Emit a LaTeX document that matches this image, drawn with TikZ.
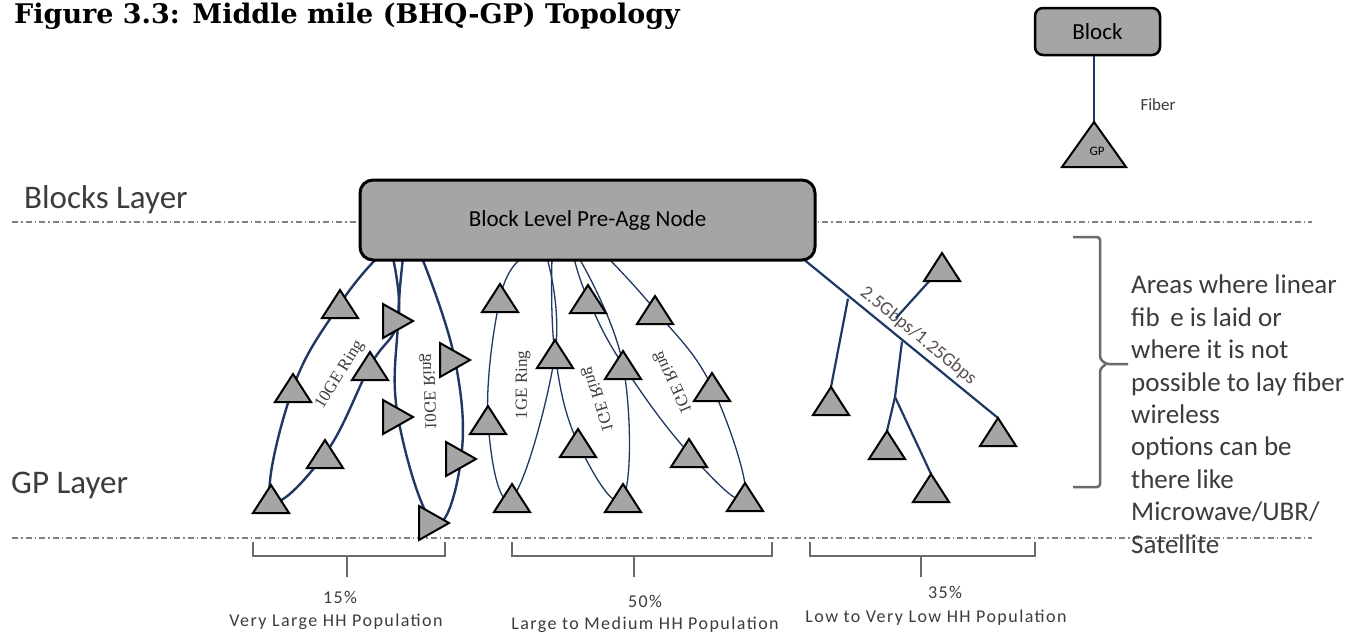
\documentclass[tikz,border=0pt]{standalone}
\usepackage{fontspec}
\setmainfont{Carlito}
\newfontfamily\titlefont{DejaVu Serif}
\newfontfamily\serifl{Liberation Serif}
\newfontfamily\spaced[LetterSpace=8]{Carlito}
\usetikzlibrary{calc}
\definecolor{navy}{HTML}{203864}
\definecolor{trifill}{HTML}{A5A5A5}
\definecolor{dashgray}{HTML}{808080}
\definecolor{bracegray}{HTML}{6A6A6A}
\definecolor{txtgray}{HTML}{3C3C3C}
\definecolor{lblgray}{HTML}{5B5050}
\tikzset{
 tri/.style={fill=trifill, draw=black, line width=2, line join=miter},
 upT/.pic={\path[tri] (-18,14) -- (18,14) -- (0,-14) -- cycle;},
 upA/.pic={\path[tri] (-18,28) -- (18,28) -- (0,0) -- cycle;},
 rtT/.pic={\path[tri] (-15,-17) -- (15,0) -- (-15,17) -- cycle;},
 bigT/.pic={\path[tri] (-32,45) -- (32,45) -- (0,0) -- cycle;},
 layerline/.style={draw=dashgray, line width=1.2, dash pattern=on 6pt off 3pt on 1.5pt off 3pt},
 ringA/.style={draw=navy, line width=2.4},
 ringB/.style={draw=navy, line width=1.3},
 fibre/.style={draw=navy, line width=2.2},
 boxgray/.style={draw=black, fill=trifill, line width=3, rounded corners=13},
 brk/.style={draw=bracegray, line width=2.5},
 ringlbl/.style={font=\serifl\fontsize{17}{17}\selectfont, text=txtgray, inner sep=0},
 bottomlbl/.style={font=\spaced\fontsize{18}{18}\selectfont, text=txtgray, inner sep=0, anchor=base},
}
\begin{document}
\begin{tikzpicture}[x=1pt,y=-1pt]
\useasboundingbox (0,0) rectangle (1364,632);
\fill[white] (0,0) rectangle (1364,632);
% ---------- coordinates of GP triangles ----------
\coordinate (T1) at (340,304);
\coordinate (T2) at (293,388);
\coordinate (T3) at (271,499);
\coordinate (T4) at (370,366);
\coordinate (T5) at (325,454);
\coordinate (R1) at (398,321);
\coordinate (R2) at (455,360);
\coordinate (R3) at (398,417);
\coordinate (R4) at (461,459);
\coordinate (R5) at (434,523);
\coordinate (M1) at (500,298);
\coordinate (M2) at (488,420);
\coordinate (M3) at (512,498);
\coordinate (M4) at (555,354);
\coordinate (M5) at (588,299);
\coordinate (M6) at (578,443);
\coordinate (M7) at (623,365);
\coordinate (M8) at (655,310);
\coordinate (M9) at (623,498);
\coordinate (M10) at (712,387);
\coordinate (M11) at (689,453);
\coordinate (M12) at (745,497);
\coordinate (S1) at (831,387);
\coordinate (S2) at (887,431);
\coordinate (S3) at (931,474);
\coordinate (S4) at (942,267);
\coordinate (S5) at (998,418);
% points on the bottom edge of the pre-agg node
\coordinate (aA1) at (377,258);
\coordinate (aA2) at (393,258);
\coordinate (aB1) at (403,258);
\coordinate (aB2) at (422,258);
\coordinate (aM1) at (522,258);
\coordinate (aM2) at (547,258);
\coordinate (aM3) at (552,258);
\coordinate (aM4) at (579,258);
\coordinate (aM5) at (574,258);
\coordinate (aM6) at (608,258);
\coordinate (aR) at (802,258);
% junctions on the wireless tree
\coordinate (J1) at (848,298.6);
\coordinate (J2) at (902,341.6);
\coordinate (J3) at (895,397);
\coordinate (E4) at (896,318);
% ---------- layer lines ----------
\coordinate (L1a) at (12,222); \coordinate (L1b) at (1312,222);
\coordinate (L2a) at (12,538); \coordinate (L2b) at (1312,538);
\draw[layerline] (L1a) -- (L1b);
\draw[layerline] (L2a) -- (L2b);
% ---------- rings ----------
\draw[ringA] plot[smooth, tension=0.7] coordinates {(aA1) (T1) (T2) (T3) (T5) (T4) (R1) (aA2)};
\draw[ringA] plot[smooth, tension=0.7] coordinates {(aB1) (R1) (R3) (R5) (R4) (R2) (aB2)};
\draw[ringB] plot[smooth, tension=0.7] coordinates {(aM1) (M1) (M2) (M3) (M4) (aM2)};
\draw[ringB] plot[smooth, tension=0.7] coordinates {(aM3) (M4) (M6) (M9) (M7) (aM4)};
\draw[ringB] plot[smooth, tension=0.7] coordinates {(aM5) (M5) (M7) (M11) (M12) (M10) (M8) (aM6)};
% ---------- wireless tree ----------
\draw[fibre] (aR) -- node[pos=0.55, sloped, above=4pt, inner sep=0, font=\fontsize{19}{19}\selectfont, text=lblgray] (rate) {2.5Gbps/1.25Gbps} (S5);
\draw[fibre] (J1) -- (S1);
\draw[fibre] (J2) -- (J3) -- (S2);
\draw[fibre] (J3) -- (S3);
\draw[fibre] (S4) -- (E4);
% ---------- pre-agg node ----------
\node[boxgray, minimum width=455, minimum height=80, font=\fontsize{23}{23}\selectfont] (agg) at (587.5,220) {Block Level Pre-Agg Node};
% ---------- triangles ----------
\foreach \n in {T1,T2,T3,T4,T5,M1,M2,M3,M4,M5,M6,M7,M8,M9,M10,M11,M12} \pic at (\n) {upT};
\foreach \n in {R1,R2,R3,R4,R5} \pic at (\n) {rtT};
\foreach \n in {S1,S2,S3,S5} \pic at (\n) {upA};
\pic at (S4) {upT};
% ---------- ring labels ----------
\node[ringlbl, rotate=58] (lblA) at (340,375) {10GE Ring};
\node[ringlbl, rotate=92, yscale=-1] (lblB) at (428,392) {10GE Ring};
\node[ringlbl, rotate=90] (lblM1) at (523,385) {1GE Ring};
\node[ringlbl, rotate=107, yscale=-1] (lblM2) at (597,400) {1GE Ring};
\node[ringlbl, rotate=114, yscale=-1] (lblM3) at (672,383) {1GE Ring};
% ---------- texts ----------
\node[anchor=base west, inner sep=0, font=\titlefont\bfseries\fontsize{27}{27}\selectfont] (title) at (14,23) {Figure 3.3: Middle mile (BHQ-GP) Topology};
\node[anchor=base west, inner sep=0, font=\fontsize{33}{33}\selectfont, text=txtgray] (blocks) at (24,208) {Blocks Layer};
\node[anchor=base west, inner sep=0, font=\fontsize{33}{33}\selectfont, text=txtgray] (gplayer) at (11,493) {GP Layer};
\node[anchor=north west, inner sep=0, align=left, font=\fontsize{27}{32.4}\selectfont, text=txtgray] (areas) at (1131,275)
 {Areas where linear\\fib\ \,e is laid or\\where it is not\\possible to lay fiber\\wireless\\options can be\\there like\\Microwave/UBR/\\Satellite};
% ---------- legend ----------
\node[draw=black, fill=trifill, line width=2.5, rounded corners=8, minimum width=125, minimum height=47, font=\fontsize{23}{23}\selectfont] (blk) at (1097.5,31.5) {Block};
\coordinate (GP) at (1094,122);
\draw[fibre, line width=2.5] (blk.south -| GP) -- (GP);
\pic at (GP) {bigT};
\node[font=\fontsize{13}{13}\selectfont, inner sep=0] (gpt) at (1097,151) {GP};
\node[font=\fontsize{17}{17}\selectfont, text=txtgray, inner sep=0] (fiber) at (1158,105) {Fiber};
% ---------- brace ----------
\draw[brk, rounded corners=3] (1073,237) -- (1100,237) -- (1100,359) -- (1106,364) -- (1128,364);
\draw[brk, rounded corners=3] (1106,364) -- (1100,369) -- (1100,487) -- (1073,487);
% ---------- bottom brackets ----------
\draw[brk] (253,542) -- (253,556) -- (445,556) -- (445,542);
\draw[brk] (347,556) -- (347,577);
\draw[brk] (512,542) -- (512,556) -- (772,556) -- (772,542);
\draw[brk] (634,556) -- (634,577);
\draw[brk] (810,542) -- (810,556) -- (1035,556) -- (1035,542);
\draw[brk] (921,556) -- (921,577);
\node[bottomlbl] (p1) at (340,603) {15\%};
\node[bottomlbl] (n1) at (336,626) {Very Large HH Population};
\node[bottomlbl] (p2) at (645,607) {50\%};
\node[bottomlbl] (n2) at (645,629) {Large to Medium HH Population};
\node[bottomlbl] (p3) at (945,598) {35\%};
\node[bottomlbl] (n3) at (936,622) {Low to Very Low HH Population};
\end{tikzpicture}
\end{document}
